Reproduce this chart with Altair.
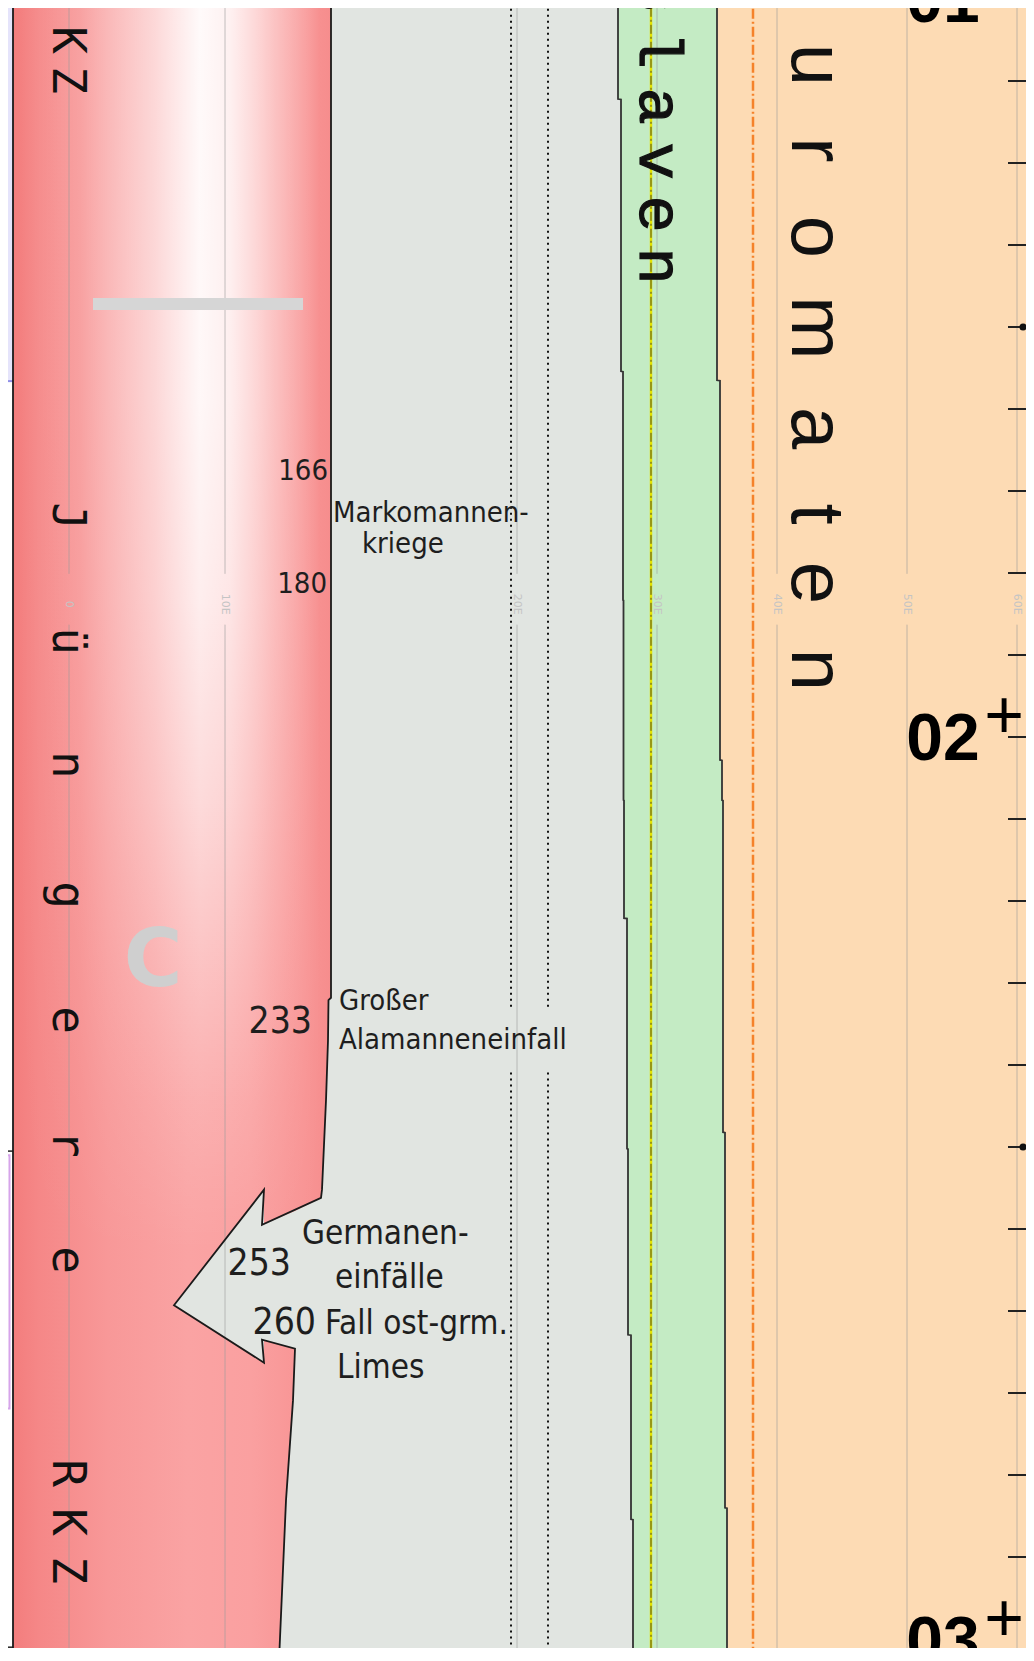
import altair as alt
import pandas as pd
import numpy as np

# ---------------- data ----------------
# horizontal position unit = schematic map position, vertical = year (AD)
red_edge_year = [110.0, 231.8, 232.1, 237.0, 244.3, 255.2, 256.2, 259.5, 274.6, 280.9, 293.1, 312.7]
red_edge_pos = [331, 331, 328.5, 328, 326, 322, 321, 321, 295, 293, 286, 279]

outline_year = [110.0, 231.8, 232.1, 237.0, 244.3, 255.2, 256.2, 259.5, 255.2, 269.3, 276.3, 273.5, 274.6, 280.9, 293.1, 312.7]
outline_pos = [331, 331, 328.5, 328, 326, 322, 321, 262, 264, 174, 264, 262, 295, 293, 286, 279]

head_year = [255.2, 269.3, 276.3]
head_left = [264, 174, 264]
shaft_pos = [262, 295, 321, 332]
shaft_top = [259.5, 257.8, 256.2, 255.6]
shaft_bottom = [273.5, 274.6, 274.6, 274.6]

green_seg_start = [110.0, 122.2, 155.4, 156.5, 183.3, 202.8, 207.7, 222.1, 248.2, 250.2, 272.9, 294.0, 295.4]
green_seg_end = [122.2, 155.4, 156.5, 183.3, 202.8, 207.7, 222.1, 248.2, 250.2, 272.9, 294.0, 295.4, 312.7]
green_left = [618, 621, 623, 623, 623.5, 623.5, 624, 627, 627, 628, 631, 631, 633]
green_right = [717, 717, 717, 720, 720, 722, 723, 723, 725, 725, 725, 727, 727]

grid_pos = [69, 225, 517, 657, 777, 907, 1017]
grid_label = ["0", "10E", "20E", "30E", "40E", "50E", "60E"]

dotted_pos = [511, 548]

tick_years = [110, 120, 130, 140, 150, 160, 170, 180, 190, 200, 210, 220, 230, 240, 250, 260, 270, 280, 290, 300]
dot_years = [150, 250]

# left neighbour column fragments
left_box_years = [251.0, 281.9]
left_tick_years = [250.5, 311.0]

# column words (letters placed one by one)
rkz_top_chars = ["R", "K", "Z"]
rkz_top_years = [108.9, 115.0, 119.9]
jung_chars = ["J", "ü", "n", "g", "e", "r", "e"]
jung_years = [173.05, 188.29, 203.41, 219.27, 234.51, 249.63, 263.78]
rkz_bot_chars = ["R", "K", "Z"]
rkz_bot_years = [289.76, 295.73, 301.59]
slav_chars = ["s", "l", "a", "v", "e", "n"]
slav_years = [109.5, 116.22, 123.05, 129.76, 136.22, 142.56]
urom_chars = ["u", "r", "o", "m", "a", "t", "e", "n"]
urom_years = [118.05, 128.41, 139.02, 150.12, 162.32, 172.80, 181.22, 191.83]

# event labels
small_num_text = ["166", "180"]
small_num_pos = [328, 327]
small_num_year = [168.66, 182.44]

big_num_text = ["233", "253", "260"]
big_num_pos = [312, 291, 316]
big_num_year = [236.10, 265.61, 272.80]

ev_text_a = ["Markomannen-", "kriege", "Großer", "Alamanneneinfall"]
ev_pos_a = [333, 362, 339, 339]
ev_year_a = [173.78, 177.56, 233.29, 238.05]

ev_text_b = ["Germanen-", "einfälle", "Fall ost-grm.", "Limes"]
ev_pos_b = [302, 335, 325, 337]
ev_year_b = [261.83, 267.20, 272.80, 278.17]

cent_text = ["01", "02", "03"]
cent_year = [112.80, 202.80, 312.93]
plus_year = [200.12, 310.24]

# ---------------- scales ----------------
PX_PER_YEAR = 8.2
Y_TOP = 200 - 729 / PX_PER_YEAR
Y_BOT = 200 + 911 / PX_PER_YEAR
xs = alt.Scale(domain=[8, 1026], nice=False, zero=False)
ys = alt.Scale(domain=[Y_TOP, Y_BOT], nice=False, zero=False, reverse=True)


def X(f):
    return alt.X(f, type="quantitative", scale=xs, axis=None)


def Y(f):
    return alt.Y(f, type="quantitative", scale=ys, axis=None)


def grad(stops):
    return alt.LinearGradient(
        gradient="linear", x1=0, y1=0, x2=1, y2=0,
        stops=[alt.GradientStop(offset=o, color=c) for o, c in stops],
    )


layers = []

# backgrounds
bg = pd.DataFrame({
    "x0": [13, 700, 0],
    "x1": [700, 1040, 13],
    "y0": [109, 109, 109],
    "y1": [313, 313, 156.6],
    "c": ["#e1e5e1", "#fddbb4", "#e5e4fb"],
})
layers.append(alt.Chart(bg).mark_rect(clip=True).encode(
    x=X("x0"), x2=alt.X2("x1"), y=Y("y0"), y2=alt.Y2("y1"),
    color=alt.Color("c:N", scale=None)))

lav_line = pd.DataFrame({"x0": [0], "x1": [13], "y": [156.6]})
layers.append(alt.Chart(lav_line).mark_rule(clip=True, color="#8f8fe8", strokeWidth=2).encode(
    x=X("x0"), x2=alt.X2("x1"), y=Y("y")))

# fragments of the neighbouring column on the far left
lbox = pd.DataFrame({"x0": [0], "x1": [9.5], "y0": [left_box_years[0]], "y1": [left_box_years[1]]})
layers.append(alt.Chart(lbox).mark_rect(clip=True, fill="white", stroke="#d6a4ea", strokeWidth=2).encode(
    x=X("x0"), x2=alt.X2("x1"), y=Y("y0"), y2=alt.Y2("y1")))
ltick = pd.DataFrame({"year": left_tick_years, "x0": 0, "x1": 13})
layers.append(alt.Chart(ltick).mark_rule(clip=True, color="#222", strokeWidth=1.5).encode(
    x=X("x0"), x2=alt.X2("x1"), y=Y("year")))

# red column
red_df = pd.DataFrame({"year": red_edge_year, "xr": red_edge_pos})
red_df["xl"] = 13
red_fill = grad([(0, "#f37d7d"), (0.08, "#f58787"), (0.3, "#f89898"), (0.55, "#faa3a3"),
                 (0.75, "#faa0a0"), (0.92, "#f89494"), (1, "#f68d8d")])
layers.append(alt.Chart(red_df).mark_area(clip=True, orient="horizontal", color=red_fill).encode(
    y=Y("year"), x=X("xl"), x2=alt.X2("xr")))

# white glow of the upper red column (style effect): rows on whole-pixel boundaries -> no seams
row_px = np.arange(0, 1252, 4)
row_y0 = 200 + (row_px - 737) / PX_PER_YEAR
row_y1 = 200 + (row_px + 4 - 737) / PX_PER_YEAR
row_op = np.interp(row_px + 2, [0, 400, 600, 800, 950, 1100, 1250],
                   [1.0, 0.97, 0.86, 0.64, 0.40, 0.16, 0.0])
glow = pd.DataFrame({"y0": row_y0, "y1": row_y1, "op": row_op, "x0": 20, "x1": 320})
glow_fill = grad([(0, "rgba(255,255,255,0)"), (0.2, "rgba(255,255,255,0.15)"),
                  (0.45, "rgba(255,255,255,0.6)"), (0.6, "rgba(255,255,255,0.95)"),
                  (0.7, "rgba(255,255,255,0.85)"), (0.85, "rgba(255,255,255,0.4)"),
                  (1, "rgba(255,255,255,0)")])
layers.append(alt.Chart(glow).mark_rect(clip=True, color=glow_fill).encode(
    x=X("x0"), x2=alt.X2("x1"), y=Y("y0"), y2=alt.Y2("y1"),
    opacity=alt.Opacity("op:Q", scale=None)))

# gray arrow (head + shaft)
head = pd.DataFrame({"year": head_year, "xl": head_left, "xr": [264, 264, 264]})
layers.append(alt.Chart(head).mark_area(clip=True, orient="horizontal", color="#e1e5e1").encode(
    y=Y("year"), x=X("xl"), x2=alt.X2("xr")))
shaft = pd.DataFrame({"pos": shaft_pos, "top": shaft_top, "bot": shaft_bottom})
layers.append(alt.Chart(shaft).mark_area(clip=True, orient="vertical", color="#e1e5e1").encode(
    x=X("pos"), y=Y("top"), y2=alt.Y2("bot")))

# green band
rows = []
for i, (s, e, l, r) in enumerate(zip(green_seg_start, green_seg_end, green_left, green_right)):
    rows.append((s + (0.05 if i > 0 else 0), l, r))
    rows.append((e, l, r))
green_df = pd.DataFrame(rows, columns=["year", "xl", "xr"])
green_df["idx"] = range(len(green_df))
layers.append(alt.Chart(green_df).mark_area(clip=True, orient="horizontal", color="#c4ebc4").encode(
    y=Y("year"), x=X("xl"), x2=alt.X2("xr")))

# grid lines with label gap
gl = []
for p in grid_pos:
    gl.append((p, 109, 180.1))
    gl.append((p, 186.3, 313))
gl_df = pd.DataFrame(gl, columns=["pos", "y0", "y1"])
layers.append(alt.Chart(gl_df).mark_rule(clip=True, color="#9a9a9a", opacity=0.6, strokeWidth=1).encode(
    x=X("pos"), y=Y("y0"), y2=alt.Y2("y1")))
glab = pd.DataFrame({"pos": grid_pos, "t": grid_label, "year": 183.8})
layers.append(alt.Chart(glab).mark_text(clip=True, angle=90, fontSize=11, color="#c4c4c4",
                                        align="center", baseline="middle", font="DejaVu Sans").encode(
    x=X("pos"), y=Y("year"), text="t:N"))

# dotted lines
dl = []
for p in dotted_pos:
    dl.append((p, 109, 233.3))
    dl.append((p, 240.9, 313))
dl_df = pd.DataFrame(dl, columns=["pos", "y0", "y1"])
layers.append(alt.Chart(dl_df).mark_rule(clip=True, color="#111", strokeWidth=2, strokeDash=[2, 4]).encode(
    x=X("pos"), y=Y("y0"), y2=alt.Y2("y1")))

# yellow and orange dash-dot lines
yl = pd.DataFrame({"pos": [651], "y0": [109], "y1": [313]})
layers.append(alt.Chart(yl).mark_rule(clip=True, color="#e4e400", strokeWidth=2.5).encode(
    x=X("pos"), y=Y("y0"), y2=alt.Y2("y1")))
layers.append(alt.Chart(yl).mark_rule(clip=True, color="#4a4a2a", strokeWidth=1, strokeDash=[9, 3, 2, 3]).encode(
    x=X("pos"), y=Y("y0"), y2=alt.Y2("y1")))
ol = pd.DataFrame({"pos": [753], "y0": [109], "y1": [312.0]})
layers.append(alt.Chart(ol).mark_rule(clip=True, color="#f5822a", strokeWidth=2.5, strokeDash=[10, 3, 2, 3]).encode(
    x=X("pos"), y=Y("y0"), y2=alt.Y2("y1")))

# outlines
out_df = pd.DataFrame({"pos": outline_pos, "year": outline_year, "idx": range(len(outline_pos))})
layers.append(alt.Chart(out_df).mark_line(clip=True, color="#1a1a1a", strokeWidth=1.8).encode(
    x=X("pos"), y=Y("year"), order=alt.Order("idx:Q")))
lb = pd.DataFrame({"pos": [13], "y0": [109], "y1": [313]})
layers.append(alt.Chart(lb).mark_rule(clip=True, color="#1a1a1a", strokeWidth=1.8).encode(
    x=X("pos"), y=Y("y0"), y2=alt.Y2("y1")))
layers.append(alt.Chart(green_df).mark_line(clip=True, color="#333", strokeWidth=1.8).encode(
    x=X("xl"), y=Y("year"), order=alt.Order("idx:Q")))
layers.append(alt.Chart(green_df).mark_line(clip=True, color="#333", strokeWidth=1.8).encode(
    x=X("xr"), y=Y("year"), order=alt.Order("idx:Q")))

# gray bar and the big C
bar = pd.DataFrame({"x0": [93], "x1": [303], "y0": [146.46], "y1": [147.93]})
layers.append(alt.Chart(bar).mark_rect(clip=True, color="#d6d6d6").encode(
    x=X("x0"), x2=alt.X2("x1"), y=Y("y0"), y2=alt.Y2("y1")))
cdf = pd.DataFrame({"pos": [153], "year": [227.4], "t": ["C"]})
layers.append(alt.Chart(cdf).mark_text(clip=True, fontSize=80, fontWeight="bold", color="#cfcfcf",
                                       align="center", baseline="middle", font="DejaVu Sans").encode(
    x=X("pos"), y=Y("year"), text="t:N"))


def letters(chars, years, pos, **kw):
    df = pd.DataFrame({"t": chars, "year": years, "pos": pos})
    return alt.Chart(df).mark_text(clip=True, angle=90, align="center", baseline="alphabetic",
                                   **kw).encode(x=X("pos"), y=Y("year"), text="t:N")


layers.append(letters(rkz_top_chars + jung_chars + rkz_bot_chars,
                      rkz_top_years + jung_years + rkz_bot_years, 53,
                      font="DejaVu Sans Mono", fontSize=46, color="#111"))
layers.append(letters(slav_chars, slav_years, 640, font="Liberation Mono", fontSize=62,
                      color="#111", stroke="#111", strokeWidth=1.2))
layers.append(letters(urom_chars, urom_years, 792, font="Liberation Sans", fontSize=76, color="#111"))

# event labels
LF = "DejaVu Sans Condensed, DejaVu Sans"


def labels(texts, pos, years, size, align):
    df = pd.DataFrame({"t": texts, "pos": pos, "year": years})
    return alt.Chart(df).mark_text(clip=True, font=LF, fontSize=size, align=align, baseline="alphabetic",
                                   color="#1e1e1e").encode(x=X("pos"), y=Y("year"), text="t:N")


layers.append(labels(small_num_text, small_num_pos, small_num_year, 29, "right"))
layers.append(labels(big_num_text, big_num_pos, big_num_year, 37, "right"))
layers.append(labels(ev_text_a, ev_pos_a, ev_year_a, 29, "left"))
layers.append(labels(ev_text_b, ev_pos_b, ev_year_b, 33, "left"))

# right-hand time scale
tk = pd.DataFrame({"year": tick_years, "x0": 1008, "x1": 1034})
layers.append(alt.Chart(tk).mark_rule(clip=True, color="#222", strokeWidth=2).encode(
    x=X("x0"), x2=alt.X2("x1"), y=Y("year")))
dt = pd.DataFrame({"year": dot_years, "pos": 1023})
layers.append(alt.Chart(dt).mark_circle(clip=True, color="#111", size=50, opacity=1).encode(
    x=X("pos"), y=Y("year")))
cdf2 = pd.DataFrame({"t": cent_text, "year": cent_year, "pos": 943})
layers.append(alt.Chart(cdf2).mark_text(clip=True, font="Liberation Sans", fontSize=66, fontWeight="bold",
                                        align="center", baseline="alphabetic", color="#000").encode(
    x=X("pos"), y=Y("year"), text="t:N"))
pdf = pd.DataFrame({"t": ["+", "+"], "year": plus_year, "pos": 1004})
layers.append(alt.Chart(pdf).mark_text(clip=True, font="Liberation Sans", fontSize=68,
                                       align="center", baseline="alphabetic", color="#000").encode(
    x=X("pos"), y=Y("year"), text="t:N"))

chart = alt.layer(*layers).properties(
    width=1018, height=1640, padding=0,
    autosize=alt.AutoSizeParams(type="none"), background="white",
).configure_view(strokeWidth=0)

chart.save("out.html", embed_options={"renderer": "svg", "actions": False})
